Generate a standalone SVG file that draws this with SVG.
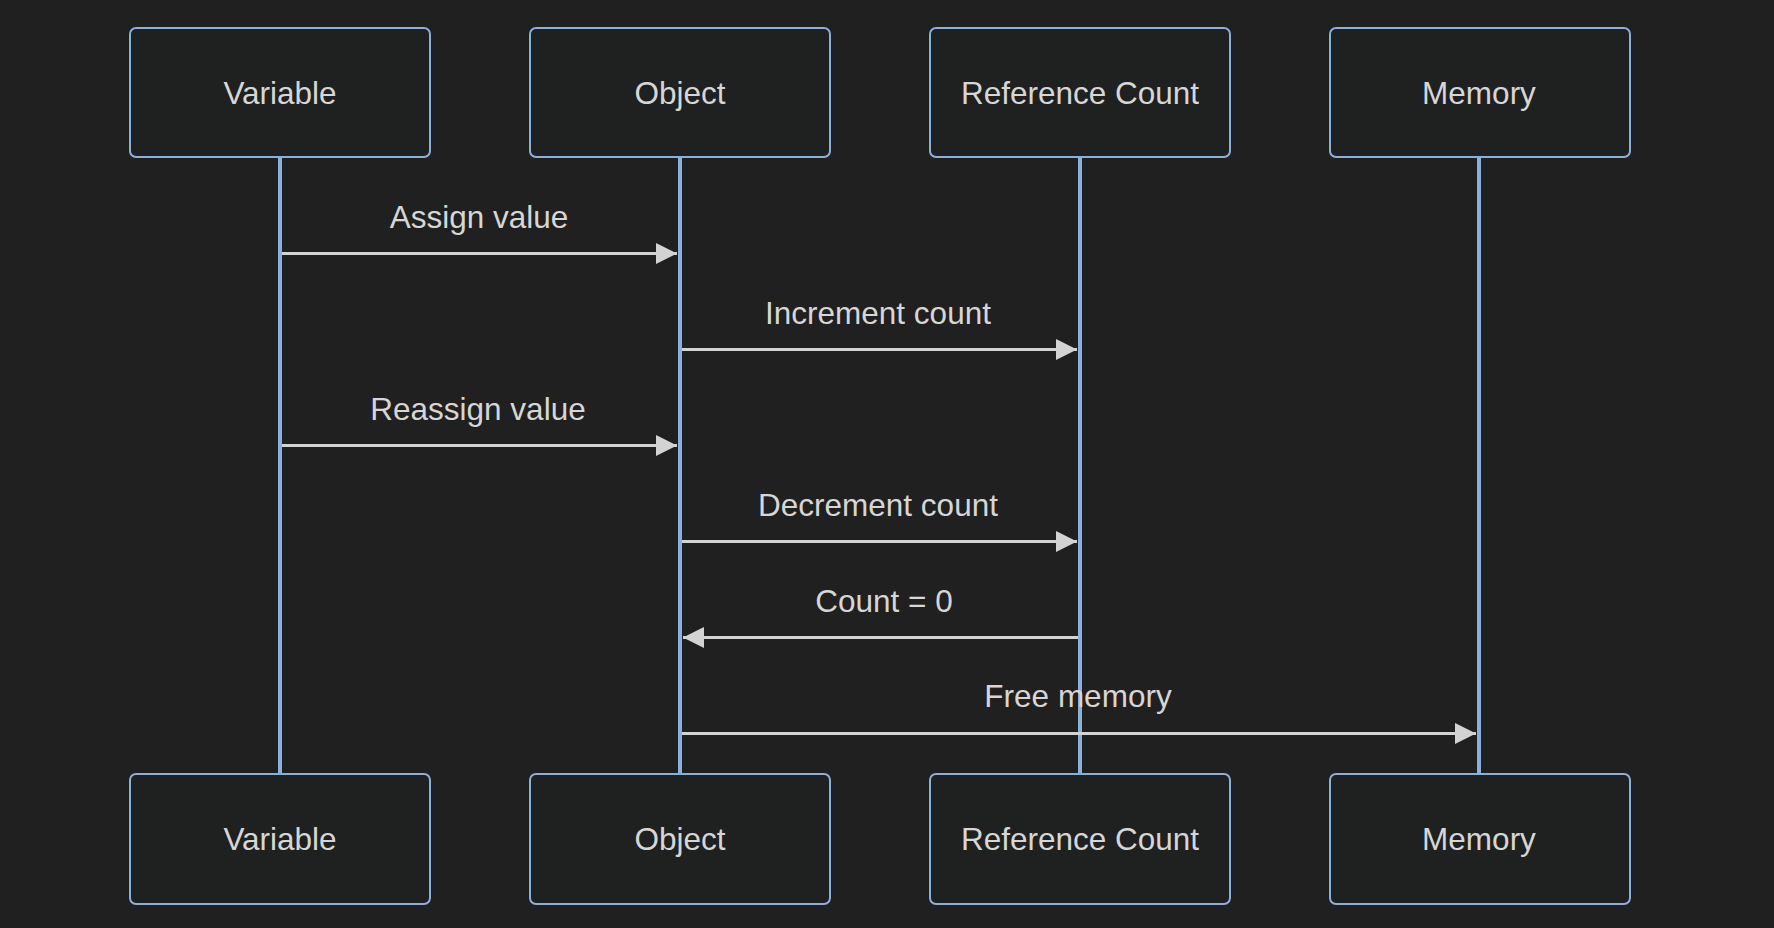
<svg xmlns="http://www.w3.org/2000/svg" width="1774" height="928" viewBox="0 0 1774 928">
<defs>
<style>
.bg{fill:#202020}
.actor rect{fill:#1f2020;stroke:#8ab0dc;stroke-width:2}
.actor text{fill:#d6d6d6;font-family:"Trebuchet MS","Liberation Sans",Arial,sans-serif;font-size:31.5px;text-anchor:middle}
.life{stroke:#8ab0dc;stroke-width:4}
.msg{stroke:#d3d3d3;stroke-width:3;fill:none}
.lbl{fill:#d6d6d6;font-family:"Trebuchet MS","Liberation Sans",Arial,sans-serif;font-size:31.5px;text-anchor:middle}
</style>
<marker id="arr" viewBox="0 0 20 20" refX="20" refY="10" markerUnits="userSpaceOnUse" markerWidth="21" markerHeight="21" orient="auto">
<path d="M0,0 L20,10 L0,20 z" fill="#d3d3d3"/>
</marker>
</defs>
<rect class="bg" x="0" y="0" width="1774" height="928"/>
<g id="lifelines">
<line class="life" x1="280" y1="157" x2="280" y2="774"/>
<line class="life" x1="680" y1="157" x2="680" y2="774"/>
<line class="life" x1="1080" y1="157" x2="1080" y2="774"/>
<line class="life" x1="1479" y1="157" x2="1479" y2="774"/>
</g>
<g id="actor-variable-top" class="actor"><rect x="130" y="28" width="300" height="129" rx="6"/><text x="280" y="104">Variable</text></g>
<g id="actor-object-top" class="actor"><rect x="530" y="28" width="300" height="129" rx="6"/><text x="680" y="104">Object</text></g>
<g id="actor-refcount-top" class="actor"><rect x="930" y="28" width="300" height="129" rx="6"/><text x="1080" y="104">Reference Count</text></g>
<g id="actor-memory-top" class="actor"><rect x="1330" y="28" width="300" height="129" rx="6"/><text x="1479" y="104">Memory</text></g>
<g id="actor-variable-bottom" class="actor"><rect x="130" y="774" width="300" height="130" rx="6"/><text x="280" y="850">Variable</text></g>
<g id="actor-object-bottom" class="actor"><rect x="530" y="774" width="300" height="130" rx="6"/><text x="680" y="850">Object</text></g>
<g id="actor-refcount-bottom" class="actor"><rect x="930" y="774" width="300" height="130" rx="6"/><text x="1080" y="850">Reference Count</text></g>
<g id="actor-memory-bottom" class="actor"><rect x="1330" y="774" width="300" height="130" rx="6"/><text x="1479" y="850">Memory</text></g>
<g id="messages">
<text class="lbl" x="479" y="228">Assign value</text>
<line class="msg" x1="282" y1="253.5" x2="677" y2="253.5" marker-end="url(#arr)"/>
<text class="lbl" x="878" y="324">Increment count</text>
<line class="msg" x1="682" y1="349.5" x2="1077" y2="349.5" marker-end="url(#arr)"/>
<text class="lbl" x="478" y="420">Reassign value</text>
<line class="msg" x1="282" y1="445.5" x2="677" y2="445.5" marker-end="url(#arr)"/>
<text class="lbl" x="878" y="516">Decrement count</text>
<line class="msg" x1="682" y1="541.5" x2="1077" y2="541.5" marker-end="url(#arr)"/>
<text class="lbl" x="884" y="612">Count = 0</text>
<line class="msg" x1="1078" y1="637.5" x2="683" y2="637.5" marker-end="url(#arr)"/>
<text class="lbl" x="1078" y="707">Free memory</text>
<line class="msg" x1="682" y1="733.5" x2="1476" y2="733.5" marker-end="url(#arr)"/>
</g>
</svg>
